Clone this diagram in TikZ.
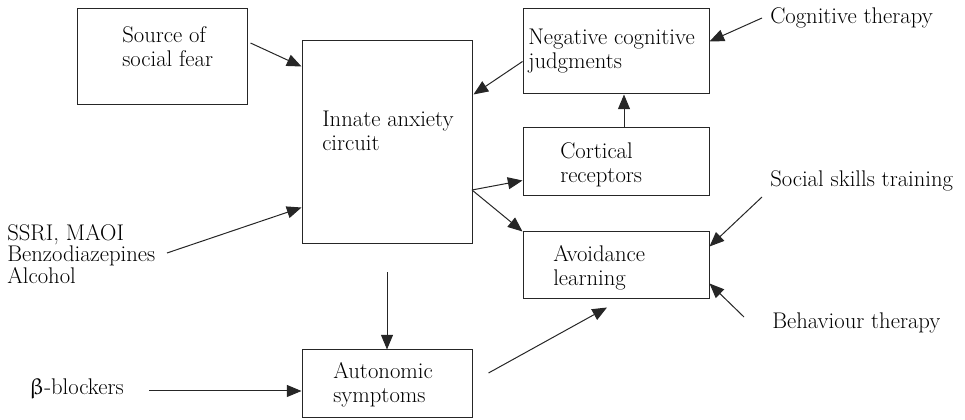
\documentclass[tikz,border=0pt]{standalone}
\usepackage{upgreek}
\usetikzlibrary{arrows.meta}
\begin{document}
\begin{tikzpicture}[x=0.75pt, y=-0.75pt,
    box/.style={draw=black!85, line width=0.75pt, inner sep=0pt},
    txt/.style={anchor=west, align=left, inner sep=0pt, font=\fontsize{17}{18}\selectfont},
    arr/.style={-{Triangle[length=11pt,width=9pt]}, line width=0.75pt, black!85}]
    \useasboundingbox (0,0) rectangle (965,420);
    % boxes
    \node[box, minimum width=127.5pt, minimum height=72pt] (src) at (162,57) {};
    \node[box, minimum width=127.5pt, minimum height=152.25pt] (innate) at (387,142.5) {};
    \node[box, minimum width=139.5pt, minimum height=63.75pt] (ncj) at (616,51.5) {};
    \node[box, minimum width=139.5pt, minimum height=51pt] (cort) at (616,162) {};
    \node[box, minimum width=139.5pt, minimum height=50.25pt] (avoid) at (616,265.5) {};
    \node[box, minimum width=127.5pt, minimum height=51pt] (auto) at (387,384) {};
    % texts in the boxes
    \node[txt] (src-t) at (122,47) {Source of\\social fear};
    \node[txt] (innate-t) at (322,131) {Innate anxiety\\circuit};
    \node[txt] (ncj-t) at (528,51) {Negative cognitive\\judgments};
    \node[txt] (cort-t) at (560,165) {Cortical\\receptors};
    \node[txt] (avoid-t) at (553,268) {Avoidance\\learning};
    \node[txt] (auto-t) at (333,385) {Autonomic\\symptoms};
    % outside labels
    \node[txt] (cogt) at (770,18) {Cognitive therapy};
    \node[txt] (skills) at (770,181) {Social skills training};
    \node[txt] (behav) at (772,323) {Behaviour therapy};
    \node[txt, font=\fontsize{17}{15}\selectfont] (drugs) at (7,254) {SSRI, MAOI\\Benzodiazepines\\Alcohol};
    \node[txt] (beta) at (29,389) {$\upbeta$-blockers};
    % free ends
    \coordinate (cogt-e) at (762,18);
    \coordinate (skills-e) at (762,197);
    \coordinate (behav-e) at (744,317);
    \coordinate (drugs-e) at (167,253);
    \coordinate (beta-e) at (149,391);
    \coordinate (fork) at (472,190);
    % arrows
    \draw[arr] ([shift={(3,-14)}]src.east) -- ([shift={(0,26)}]innate.north west);
    \draw[arr] ([shift={(0,10)}]ncj.west) -- ([shift={(1,54)}]innate.north east);
    \draw[arr] (fork) -- ([shift={(0,-16)}]cort.south west);
    \draw[arr] (fork) -- (avoid.north west);
    \draw[arr] ([shift={(8,0)}]cort.north) -- ([shift={(8,0)}]ncj.south);
    \draw[arr] (cogt-e) -- ([shift={(0,-10)}]ncj.east);
    \draw[arr] (skills-e) -- ([shift={(0,15)}]avoid.north east);
    \draw[arr] (behav-e) -- ([shift={(0,-16)}]avoid.south east);
    \draw[arr] ([shift={(16,-11)}]auto.east) -- ([shift={(-9,8)}]avoid.south);
    \draw[arr] ([shift={(0,28)}]innate.south) -- (auto.north);
    \draw[arr] (drugs-e) -- ([shift={(0,-37)}]innate.south west);
    \draw[arr] (beta-e) -- ([shift={(0,7)}]auto.west);
\end{tikzpicture}
\end{document}
